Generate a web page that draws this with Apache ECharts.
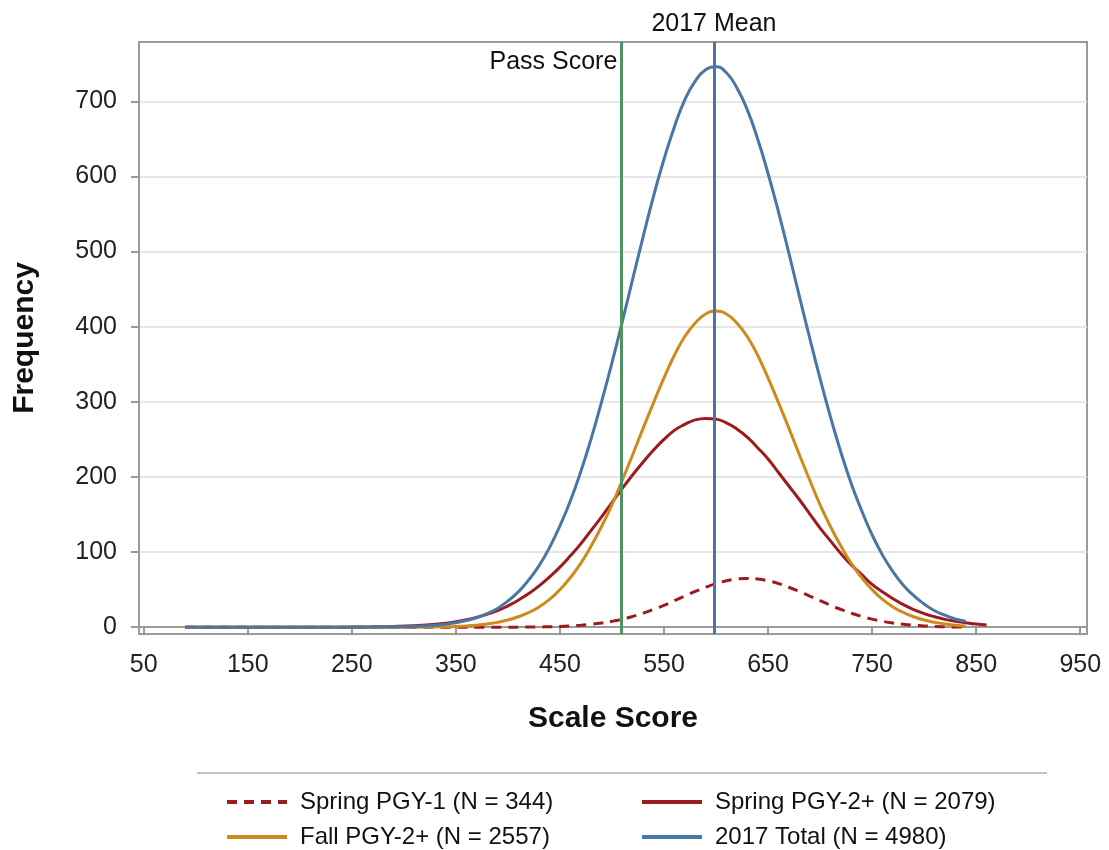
<!DOCTYPE html>
<html>
<head>
<meta charset="utf-8">
<title>Scale Score Distribution</title>
<script src="https://cdn.jsdelivr.net/npm/echarts@6/dist/echarts.min.js"></script>
<style>
html, body { margin: 0; padding: 0; background: #fff; }
#chart { width: 1109px; height: 850px; }
</style>
</head>
<body>
<div id="chart"></div>
<script>
// scale score points (x axis): coarse in the flat left tail, every 10 after 330
var scores = [90, 110, 130, 150, 170, 190, 210, 230, 250, 270, 290, 310,
	330, 340, 350, 360, 370, 380, 390, 400, 410, 420, 430, 440, 450, 460, 470, 480, 490, 500,
	510, 520, 530, 540, 550, 560, 570, 580, 590, 600, 610, 620, 630, 640, 650, 660, 670, 680,
	690, 700, 710, 720, 730, 740, 750, 760, 770, 780, 790, 800, 810, 820, 830, 840];
var scoresLong = scores.concat([850, 860]); // spring PGY-2+ runs a bit further

var springPgy1 = [0, 0, 0, 0, 0, 0, 0, 0, 0, 0, 0, 0,
	0, 0, 0, 0, 0, 0.02, 0.05, 0.08, 0.15, 0.25, 0.4, 0.7, 1.1, 1.8, 2.7, 3.9, 5.6, 7.9,
	10.8, 14.4, 18.7, 23.7, 29.2, 35.3, 41.5, 47.6, 53.2, 58.1, 61.8, 64.2, 65, 64.2, 61.8, 58.1, 53.2, 47.6,
	41.5, 35.3, 29.2, 23.7, 18.7, 14.4, 10.8, 7.9, 5.6, 3.9, 2.7, 1.8, 1.1, 0.7, 0.4, 0.3];
var springPgy2 = [0, 0, 0, 0, 0, 0, 0, 0, 0.2, 0.5, 1, 2,
	4, 5.4, 7.4, 9.9, 13, 17.3, 22, 28.5, 36, 44.8, 55, 67, 80, 95, 111, 129, 147, 166,
	185, 203, 220, 236, 250, 262, 270, 276, 278, 277, 272, 264, 253, 239, 224, 206, 188, 170,
	151, 132, 115, 98, 83, 70, 57, 47, 38, 30, 23.5, 18.2, 14, 10.5, 8, 6, 4.2, 3];
var fallPgy2 = [0, 0, 0, 0, 0, 0, 0, 0, 0, 0, 0, 0,
	0.4, 0.7, 1.1, 1.8, 2.8, 4.3, 6.5, 9.6, 14, 19.6, 27, 37, 50, 66, 85, 108, 134, 163,
	196, 230, 265, 299, 332, 362, 387, 405, 417, 421, 417, 405, 387, 362, 332, 299, 265, 230,
	196, 163, 134, 108, 85, 66, 50, 37, 27, 19.6, 14, 9.6, 6.5, 4.3, 2.8, 1.8];
var total2017 = [0, 0, 0, 0, 0, 0, 0, 0, 0.1, 0.2, 0.5, 1.1,
	2.7, 4.1, 6, 8.9, 13, 18.2, 25, 35, 47, 63, 82, 106, 135, 168, 207, 251, 300, 352,
	407, 464, 520, 574, 623, 666, 702, 727, 742, 746, 738, 718, 689, 650, 604, 553, 498, 441,
	385, 331, 280, 233, 191, 155, 123, 96, 74, 56, 42, 31, 22, 16, 11, 8];

var xTicks = [50, 150, 250, 350, 450, 550, 650, 750, 850, 950];
var yTicks = [0, 100, 200, 300, 400, 500, 600, 700];
var passScore = 509;
var meanScore = 598;

var names = ['Spring PGY-1 (N = 344)', 'Spring PGY-2+ (N = 2079)', 'Fall PGY-2+ (N = 2557)', '2017 Total (N = 4980)'];
var FONT = '"Liberation Sans", Arial, sans-serif';

function pairs(xs, ys) {
	var out = [];
	for (var i = 0; i < ys.length; i++) {
		out.push([xs[i], ys[i]]);
	}
	return out;
}

function curve(name, data, color, type) {
	return {
		name: name,
		type: 'line',
		data: data,
		smooth: 0.5,
		symbol: 'none',
		lineStyle: { color: color, width: 3, type: type || 'solid' },
		itemStyle: { color: color },
		silent: true
	};
}

var chart = echarts.init(document.getElementById('chart'));

var series = [
	curve(names[0], pairs(scores, springPgy1), '#9b1b1f', [10, 7]),
	curve(names[1], pairs(scoresLong, springPgy2), '#9b1b1f'),
	curve(names[2], pairs(scores, fallPgy2), '#cf8a1e'),
	curve(names[3], pairs(scores, total2017), '#4a76a3')
];
// reference lines
series[3].markLine = {
	silent: true,
	symbol: 'none',
	animation: false,
	data: [
		{ xAxis: passScore, lineStyle: { color: '#4f9362', width: 3, type: 'solid' }, label: { show: false } },
		{ xAxis: meanScore, lineStyle: { color: '#4a76a3', width: 3, type: 'solid' },
			label: { show: true, position: 'end', formatter: '2017 Mean', color: '#111', fontSize: 25, fontFamily: FONT, distance: 5 } }
	]
};
series[3].markPoint = {
	silent: true,
	symbol: 'circle',
	symbolSize: 0,
	animation: false,
	data: [{ coord: [passScore, 752], label: { show: true, position: 'left', distance: 4, formatter: 'Pass Score', color: '#111', fontSize: 25, fontFamily: FONT } }]
};

var legendCommon = {
	orient: 'vertical',
	padding: 0,
	itemWidth: 60,
	itemHeight: 4,
	itemGap: 11,
	itemStyle: { opacity: 0 },
	lineStyle: { width: 4 },
	textStyle: { fontSize: 24, color: '#111', fontFamily: FONT, padding: [0, 0, 0, 8] },
	selectedMode: false
};

var option = {
	animation: false,
	textStyle: { fontFamily: FONT },
	grid: {
		left: 139, right: 22, top: 42, bottom: 216,
		show: true, borderColor: '#9a9a9a', borderWidth: 2, backgroundColor: '#fff'
	},
	legend: [
		Object.assign({}, legendCommon, { left: 225, top: 790, data: [names[0], names[2]] }),
		Object.assign({}, legendCommon, { left: 640, top: 790, data: [names[1], names[3]] })
	],
	xAxis: {
		type: 'value',
		min: 45.5,
		max: 956.5,
		name: 'Scale Score',
		nameLocation: 'middle',
		nameGap: 70,
		nameTextStyle: { fontSize: 30, fontWeight: 'bold', color: '#111', fontFamily: FONT },
		axisLine: { show: true, lineStyle: { color: '#9a9a9a', width: 2 } },
		axisTick: { show: true, length: 8, customValues: xTicks, lineStyle: { color: '#9a9a9a', width: 2 } },
		axisLabel: { customValues: xTicks, fontSize: 25, color: '#222', margin: 19, fontFamily: FONT },
		splitLine: { show: false }
	},
	yAxis: {
		type: 'value',
		min: -9,
		max: 779,
		name: 'Frequency',
		nameLocation: 'middle',
		nameGap: 99,
		nameTextStyle: { fontSize: 30, fontWeight: 'bold', color: '#111', fontFamily: FONT },
		axisLine: { show: true, lineStyle: { color: '#9a9a9a', width: 2 } },
		axisTick: { show: true, length: 8, customValues: yTicks, lineStyle: { color: '#9a9a9a', width: 2 } },
		axisLabel: { customValues: yTicks, fontSize: 25, color: '#222', margin: 22, fontFamily: FONT },
		splitLine: { show: true, lineStyle: { color: '#e6e6e6', width: 2 } }
	},
	graphic: [{
		type: 'line',
		silent: true,
		shape: { x1: 197, y1: 773, x2: 1047, y2: 773 },
		style: { stroke: '#b0b0b0', lineWidth: 1.5 }
	}],
	series: series
};

chart.setOption(option);
</script>
</body>
</html>
